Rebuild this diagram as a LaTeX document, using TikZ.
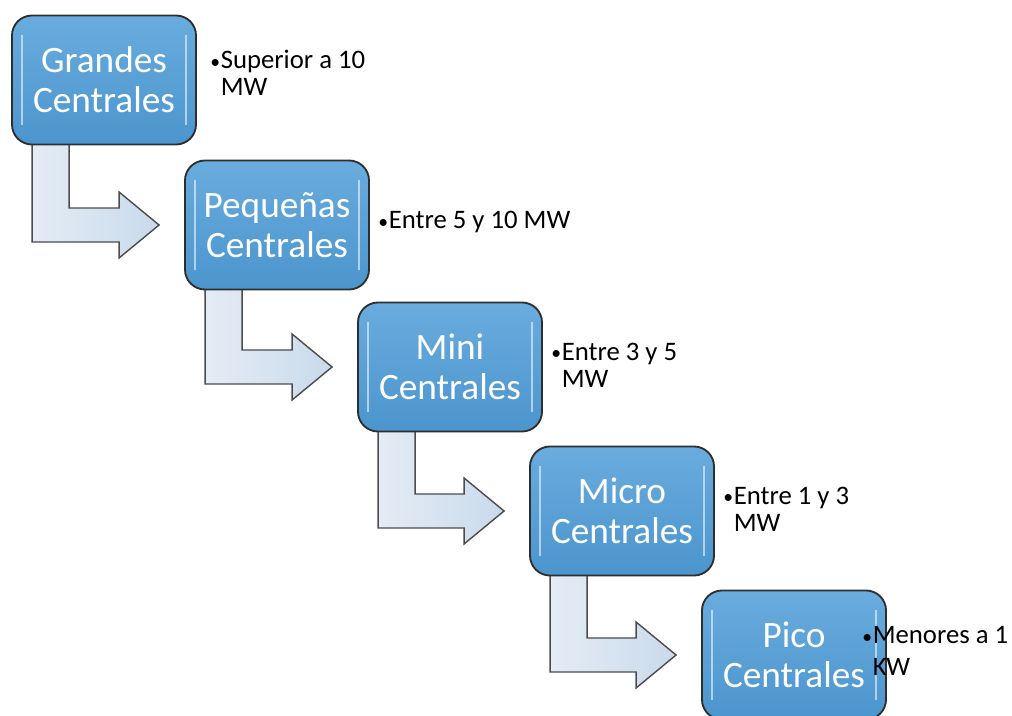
\documentclass[tikz,border=0pt]{standalone}
\usepackage{fontspec}
\setmainfont{Carlito}
\usetikzlibrary{calc,backgrounds}
\definecolor{cajaazul}{HTML}{4F9DD8}
\definecolor{cajaborde}{HTML}{2E2E2E}
\definecolor{flechaclara}{HTML}{E4ECF5}
\definecolor{flechaoscura}{HTML}{C9DAEB}
\newcommand{\vin}{{\fontsize{14}{14}\selectfont\raisebox{0.3pt}{•}}\kern0.5pt}

\begin{document}
\begin{tikzpicture}[x=0.025cm,y=-0.025cm,
    caja/.style={draw=cajaborde,line width=1.3pt,rounded corners=0.5cm,
        top color=cajaazul!85!white,bottom color=cajaazul!95!black,
        text=white,align=center,minimum width=4.6cm,minimum height=3.225cm,
        font=\fontsize{26.5}{28.5}\selectfont,
        path picture={
            \draw[white,opacity=.55,line width=1.3pt]
                ([shift={(0.25cm,-0.5cm)}]path picture bounding box.north west) --
                ([shift={(0.25cm,0.5cm)}]path picture bounding box.south west);
            \draw[white,opacity=.55,line width=1.3pt]
                ([shift={(-0.25cm,-0.5cm)}]path picture bounding box.north east) --
                ([shift={(-0.25cm,0.5cm)}]path picture bounding box.south east);}},
    nota/.style={anchor=west,align=left,inner sep=0pt,text=black,
        font=\fontsize{19}{19}\selectfont},
    flecha/.style={draw=black!70,line width=1pt,left color=flechaclara,right color=flechaoscura}]
    \useasboundingbox (0,0) rectangle (1012,716);

    % cajas
    \node[caja] (grandes) at (104,80) {Grandes\\Centrales};
    \node[caja] (pequenas) at (277,225) {Pequeñas\\Centrales};
    \node[caja] (mini) at (450,367) {Mini\\Centrales};
    \node[caja] (micro) at (622,511) {Micro\\Centrales};
    \node[caja] (pico) at (794,655) {Pico\\Centrales};

    % notas
    \node[nota] (n1) at (210,73) {\vin Superior a 10\\\hphantom{\vin}MW};
    \node[nota] (n2) at (378,222) {\vin Entre 5 y 10 MW};
    \node[nota] (n3) at (551,365) {\vin Entre 3 y 5\\\hphantom{\vin}MW};
    \node[nota] (n4) at (723,509) {\vin Entre 1 y 3\\\hphantom{\vin}MW};
    \node[nota,font=\fontsize{19}{23}\selectfont] (n5) at (862,651) {\vin Menores a 1\\\hphantom{\vin}KW};

    % flechas
    \begin{scope}[on background layer]
    \foreach \a/\b in {grandes/pequenas,pequenas/mini,mini/micro,micro/pico}
        \draw[flecha] ($(\a.south west)+(21,-6)$) -- ++(37,0)
            |- ($(\b.west)+(-65,-17)$) -- ++(0,-16) -- ($(\b.west)+(-25,0)$)
            -- ($(\b.west)+(-65,33)$) -- ++(0,-16) -| ($(\a.south west)+(21,-6)$) -- cycle;
    \end{scope}
\end{tikzpicture}
\end{document}
